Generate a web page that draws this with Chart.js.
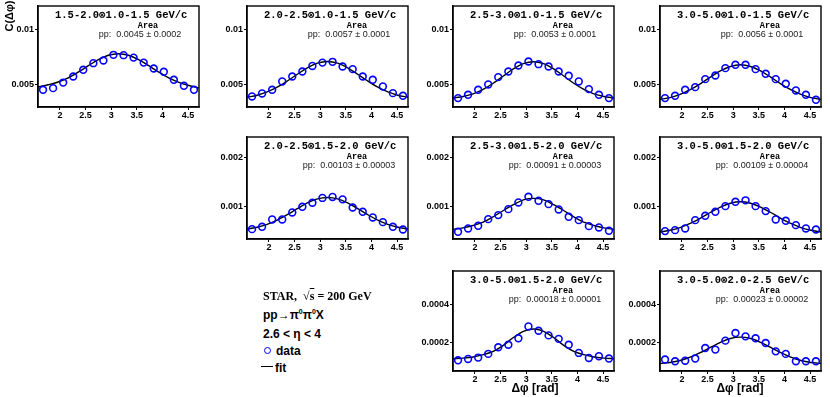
<!DOCTYPE html>
<html><head><meta charset="utf-8">
<script src="https://cdn.jsdelivr.net/npm/chart.js@4/dist/chart.umd.min.js"></script>
<style>
html,body{margin:0;padding:0;background:#fff;}
body{width:830px;height:397px;position:relative;overflow:hidden;font-family:"Liberation Sans",Arial,sans-serif;}
.pan{position:absolute;}
.t{position:absolute;white-space:nowrap;color:#000;line-height:1;}
</style></head><body>
<script>
// ---- data ----
const xBins = [1.669,1.865,2.062,2.258,2.454,2.651,2.847,3.043,3.240,3.436,3.633,3.829,4.025,4.222,4.418,4.614];
const xFit  = [1.571,1.767,1.963,2.160,2.356,2.553,2.749,2.945,3.142,3.338,3.534,3.731,3.927,4.123,4.320,4.516,4.712];
const xTicks = [2,2.5,3,3.5,4,4.5];
const xTickLabels = ['2','2.5','3','3.5','4','4.5'];

const titles = [
 '1.5-2.0\u22971.0-1.5 GeV/c','2.0-2.5\u22971.0-1.5 GeV/c','2.5-3.0\u22971.0-1.5 GeV/c','3.0-5.0\u22971.0-1.5 GeV/c',
 '2.0-2.5\u22971.5-2.0 GeV/c','2.5-3.0\u22971.5-2.0 GeV/c','3.0-5.0\u22971.5-2.0 GeV/c',
 '3.0-5.0\u22971.5-2.0 GeV/c','3.0-5.0\u22972.0-2.5 GeV/c'];
const areaTexts = [
 'pp:  0.0045 \u00b1 0.0002','pp:  0.0057 \u00b1 0.0001','pp:  0.0053 \u00b1 0.0001','pp:  0.0056 \u00b1 0.0001',
 'pp:  0.00103 \u00b1 0.00003','pp:  0.00091 \u00b1 0.00003','pp:  0.00109 \u00b1 0.00004',
 'pp:  0.00018 \u00b1 0.00001','pp:  0.00023 \u00b1 0.00002'];

const data1 = [0.00455,0.0047,0.0052,0.00575,0.00635,0.00695,0.00719,0.0077,0.00767,0.00745,0.007,0.00647,0.00617,0.00545,0.00491,0.00455];
const fit1  = [0.0048,0.0050,0.00525,0.00562,0.00614,0.00672,0.00727,0.00766,0.0078,0.00766,0.00727,0.00672,0.00614,0.00562,0.00522,0.00494,0.00472];
const data2 = [0.00395,0.00422,0.00455,0.0053,0.00575,0.0062,0.0067,0.007,0.00707,0.00665,0.00641,0.00575,0.00545,0.00485,0.00425,0.00401];
const fit2  = [0.00388,0.00406,0.00436,0.00479,0.00534,0.00595,0.00653,0.00695,0.0071,0.00695,0.00653,0.00595,0.00534,0.00479,0.00436,0.00406,0.00388];
const data3 = [0.0038,0.0041,0.00455,0.00503,0.00569,0.0062,0.00674,0.0071,0.00686,0.00665,0.0062,0.00581,0.0053,0.00461,0.0041,0.0038];
const fit3  = [0.00381,0.00395,0.00419,0.00459,0.00514,0.00579,0.00643,0.0069,0.00708,0.0069,0.00643,0.00579,0.00514,0.00459,0.00419,0.00395,0.00381];
const data4 = [0.0038,0.00401,0.00455,0.00479,0.00551,0.00584,0.0065,0.0068,0.0068,0.00641,0.00599,0.00551,0.00509,0.00449,0.0041,0.00365];
const fit4  = [0.00368,0.00385,0.00414,0.00456,0.00509,0.00569,0.00625,0.00665,0.0068,0.00665,0.00625,0.00569,0.00509,0.00456,0.00414,0.00385,0.00368];
const data5 = [0.000524,0.000572,0.000724,0.000724,0.000869,0.000986,0.00107,0.00117,0.00119,0.00114,0.000972,0.000883,0.000766,0.000669,0.000572,0.000517];
const fit5  = [0.000527,0.000564,0.000623,0.000711,0.000823,0.000947,0.001065,0.001149,0.00118,0.001149,0.001065,0.000947,0.000823,0.000711,0.000623,0.000564,0.000527];
const data6 = [0.000469,0.000538,0.000593,0.000731,0.000814,0.000938,0.001076,0.001193,0.00111,0.001041,0.000931,0.000779,0.00071,0.000586,0.000559,0.00049];
const fit6  = [0.00052,0.00055,0.0006,0.00067,0.00078,0.00091,0.00103,0.00113,0.00116,0.00113,0.00103,0.00091,0.00078,0.00067,0.0006,0.00055,0.00052];
const data7 = [0.000483,0.000503,0.000538,0.00071,0.0008,0.000883,0.001,0.00109,0.00112,0.001,0.000897,0.000724,0.000697,0.000607,0.000538,0.000517];
const fit7  = [0.000466,0.0005,0.000557,0.000641,0.000748,0.000868,0.00098,0.00106,0.00109,0.00106,0.00098,0.000868,0.000748,0.000641,0.000557,0.0005,0.000466];
const data8 = [0.000111,0.000118,0.000125,0.000144,0.000178,0.000191,0.000224,0.000285,0.000263,0.000239,0.000221,0.000191,0.000149,0.000123,0.000132,0.00012];
const fit8  = [0.000119,0.000122,0.000128,0.00014,0.000157,0.000188,0.000228,0.00026,0.000272,0.00026,0.000228,0.000188,0.000157,0.00014,0.000128,0.000122,0.000119];
const data9 = [0.000115,0.000106,0.000109,0.00012,0.000174,0.000166,0.000212,0.000251,0.000234,0.000224,0.0002,0.000157,0.000144,0.000106,0.000106,0.000106];
const fit9  = [0.0000946,0.0001,0.00011,0.000127,0.00015,0.000177,0.000203,0.000223,0.00023,0.000223,0.000203,0.000177,0.00015,0.000127,0.00011,0.0001,0.0000946];

const rowYTicks = [[0.005,0.01],[0.001,0.002],[0.0002,0.0004]];
const rowYTickLabels = [['0.005','0.01'],['0.001','0.002'],['0.0002','0.0004']];
const rowYRange = [[0.003,0.0121],[0.00032,0.00243],[0.000056,0.00057]];

// ---- layout ----
const colLeft = [38,247,453,660];
const rowTop = [6,137,271];
const rowH = [101,102,100];
const PW = 161;
const YW = 42, XH = 16, PT = 12, PR = 8;

const panels = [
 {row:0,col:0,d:data1,f:fit1},{row:0,col:1,d:data2,f:fit2},{row:0,col:2,d:data3,f:fit3},{row:0,col:3,d:data4,f:fit4},
 {row:1,col:1,d:data5,f:fit5},{row:1,col:2,d:data6,f:fit6},{row:1,col:3,d:data7,f:fit7},
 {row:2,col:2,d:data8,f:fit8},{row:2,col:3,d:data9,f:fit9}];

const panelDeco = {
 id:'panelDeco',
 afterDraw(chart, args, o){
  const {ctx, chartArea:a} = chart;
  ctx.save();
  ctx.strokeStyle='#000'; ctx.lineWidth=1.4;
  ctx.strokeRect(a.left, a.top, a.right-a.left, a.bottom-a.top);
  ctx.fillStyle='#000'; ctx.textBaseline='middle';
  ctx.font='bold 10.5px "Liberation Mono", "DejaVu Sans Mono", monospace';
  ctx.textAlign='left';
  ctx.fillText(o.title, a.left+17, a.top+9.5);
  ctx.font='bold 8.5px "Liberation Mono", monospace';
  ctx.textAlign='center';
  ctx.fillText('Area', a.left+110, a.top+19.5);
  ctx.font='9px "Liberation Sans", Arial, sans-serif';
  ctx.fillStyle='#222';
  ctx.fillText(o.area, a.left+102, a.top+29);
  ctx.restore();
 }
};

panels.forEach((p,i)=>{
 const L = colLeft[p.col], T = rowTop[p.row], H = rowH[p.row];
 const div = document.createElement('div');
 div.className='pan';
 div.style.left=(L-YW)+'px'; div.style.top=(T-PT)+'px';
 const cw = YW+PW+PR, ch = PT+H+XH;
 div.style.width=cw+'px'; div.style.height=ch+'px';
 const cv = document.createElement('canvas');
 cv.width=cw; cv.height=ch; cv.style.width=cw+'px'; cv.style.height=ch+'px';
 div.appendChild(cv); document.body.appendChild(div);
 const yt = rowYTicks[p.row], yl = rowYTickLabels[p.row], yr = rowYRange[p.row];
 new Chart(cv, {
  type:'scatter',
  data:{datasets:[
   {data:xFit.map((x,k)=>({x:x,y:p.f[k]})), showLine:true, borderColor:'#000', borderWidth:1.4,
    pointRadius:0, cubicInterpolationMode:'monotone', fill:false, order:2},
   {data:xBins.map((x,k)=>({x:x,y:p.d[k]})), showLine:false, pointStyle:'circle', pointRadius:3.4,
    pointBorderWidth:1.6, pointBorderColor:'#0000ff', pointBackgroundColor:'rgba(0,0,0,0)', order:1}
  ]},
  options:{
   responsive:false, animation:false, events:[],
   layout:{padding:{top:PT,right:PR,left:0,bottom:0}},
   plugins:{legend:{display:false},tooltip:{enabled:false},
     panelDeco:{title:titles[i], area:areaTexts[i]}},
   scales:{
    x:{type:'linear',min:1.5708,max:4.7124,
      afterBuildTicks:s=>{s.ticks=xTicks.map(v=>({value:v}));},
      afterFit:s=>{s.height=XH;},
      ticks:{callback:(v,k)=>xTickLabels[k],font:{family:'"Liberation Sans", Arial',weight:'bold',size:9},
        color:'#000',padding:0,maxRotation:0,autoSkip:false},
      grid:{drawOnChartArea:false,drawTicks:true,tickLength:3,color:'#000',lineWidth:1},
      border:{display:true,color:'#000',width:1.4}},
    y:{type:'linear',min:yr[0],max:yr[1],
      afterBuildTicks:s=>{s.ticks=yt.map(v=>({value:v}));},
      afterFit:s=>{s.width=YW;},
      ticks:{callback:(v,k)=>yl[k],font:{family:'"Liberation Sans", Arial',weight:'bold',size:9},
        color:'#000',padding:1,autoSkip:false},
      grid:{drawOnChartArea:false,drawTicks:true,tickLength:3,color:'#000',lineWidth:1},
      border:{display:true,color:'#000',width:1.4}}
   }
  },
  plugins:[panelDeco]
 });
});

function addText(html, x, y, css){
 const d=document.createElement('div'); d.className='t'; d.innerHTML=html;
 d.style.left=x+'px'; d.style.top=y+'px'; if(css) d.style.cssText+=css;
 document.body.appendChild(d); return d;
}
// y-axis title
addText('C(\u0394\u03c6)', -8, 10, 'font:bold 11px "Liberation Sans",Arial;transform:rotate(-90deg);transform-origin:center;width:34px;text-align:center;');
// x-axis titles
addText('\u0394\u03c6 [rad]', 493, 381, 'font:bold 12px "Liberation Sans",Arial;width:84px;text-align:center;');
addText('\u0394\u03c6 [rad]', 698, 381, 'font:bold 12px "Liberation Sans",Arial;width:84px;text-align:center;');
// legend block
addText('STAR,&nbsp; \u221a<span style="text-decoration:overline">s</span> = 200 GeV', 263, 289, 'font:bold 12px "Liberation Serif","Times New Roman",serif;');
addText('pp\u2192\u03c0<sup style="font-size:7px">0</sup>\u03c0<sup style="font-size:7px">0</sup>X', 263, 308, 'font:bold 12px "Liberation Sans",Arial;');
addText('2.6 &lt; \u03b7 &lt; 4', 263, 327, 'font:bold 12px "Liberation Sans",Arial;');
addText('', 263.5, 346.5, 'width:5px;height:5px;border:1.6px solid #0000ff;border-radius:50%;');
addText('data', 276, 344, 'font:bold 12px "Liberation Sans",Arial;');
addText('', 261, 366, 'width:12px;height:0;border-top:1.4px solid #000;');
addText('fit', 275, 361, 'font:bold 12px "Liberation Sans",Arial;');
</script>
</body></html>
